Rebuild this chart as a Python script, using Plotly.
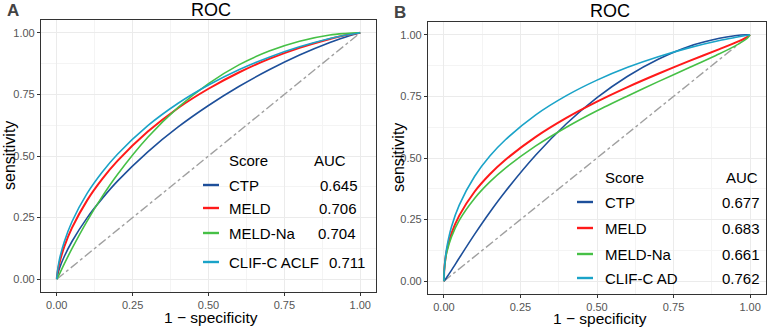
import plotly.graph_objects as go

# ---------------- data ----------------
scores_a = ["CTP", "MELD", "MELD-Na", "CLIF-C ACLF"]
auc_a = ["0.645", "0.706", "0.704", "0.711"]
scores_b = ["CTP", "MELD", "MELD-Na", "CLIF-C AD"]
auc_b = ["0.677", "0.683", "0.661", "0.762"]

# shared 1 - specificity grid
fpr = [0, 0.001, 0.005, 0.01, 0.025, 0.05, 0.1, 0.15, 0.2, 0.3, 0.4, 0.5, 0.6, 0.7, 0.8, 0.9, 0.95, 0.99, 1]

# Panel A sensitivities
a_ctp = [0, 0.008, 0.028, 0.048, 0.093, 0.153, 0.249, 0.328, 0.398, 0.517, 0.618, 0.705, 0.782, 0.850, 0.910, 0.961, 0.982, 0.997, 1]
a_meld = [0, 0.014, 0.045, 0.072, 0.133, 0.208, 0.320, 0.407, 0.480, 0.599, 0.695, 0.773, 0.839, 0.894, 0.939, 0.975, 0.990, 0.998, 1]
a_na = [0, 0.002, 0.012, 0.024, 0.063, 0.124, 0.236, 0.336, 0.425, 0.576, 0.697, 0.794, 0.870, 0.926, 0.966, 0.991, 0.997, 1.0, 1]
a_clif = [0, 0.019, 0.055, 0.087, 0.153, 0.233, 0.348, 0.435, 0.507, 0.623, 0.714, 0.788, 0.850, 0.901, 0.943, 0.977, 0.990, 0.998, 1]

# Panel B sensitivities
b_ctp = [0, 0.001, 0.008, 0.017, 0.045, 0.094, 0.190, 0.280, 0.363, 0.512, 0.639, 0.745, 0.832, 0.901, 0.953, 0.986, 0.996, 1.0, 1]
b_meld = [0, 0.044, 0.093, 0.128, 0.195, 0.266, 0.363, 0.434, 0.492, 0.586, 0.663, 0.729, 0.788, 0.842, 0.893, 0.942, 0.967, 0.991, 1]
b_na = [0, 0.042, 0.088, 0.120, 0.181, 0.247, 0.336, 0.403, 0.458, 0.549, 0.625, 0.692, 0.752, 0.810, 0.866, 0.923, 0.954, 0.985, 1]
b_clif = [0, 0.042, 0.099, 0.141, 0.222, 0.309, 0.425, 0.508, 0.573, 0.675, 0.753, 0.816, 0.868, 0.911, 0.947, 0.977, 0.989, 0.998, 1]

diag = [0, 1]
tick_vals = [0, 0.25, 0.5, 0.75, 1.0]
tick_text = ["0.00", "0.25", "0.50", "0.75", "1.00"]

colors = ["#1d4f9a", "#ff1a1a", "#46c046", "#1aa3c8"]
widths = [1.6, 2.0, 1.6, 1.6]

W, H = 777, 327
FONT = "Liberation Sans, Arial, sans-serif"

fig = go.Figure()

curves_a = [a_ctp, a_meld, a_na, a_clif]
curves_b = [b_ctp, b_meld, b_na, b_clif]

for xa, ya, curves in [("x", "y", curves_a), ("x2", "y2", curves_b)]:
    fig.add_trace(go.Scatter(x=diag, y=diag, mode="lines", xaxis=xa, yaxis=ya,
                             line=dict(color="#a0a0a0", width=1.4, dash="dashdot"),
                             showlegend=False, hoverinfo="skip"))
    for cy, col, w in zip(curves, colors, widths):
        fig.add_trace(go.Scatter(x=fpr, y=cy, mode="lines", xaxis=xa, yaxis=ya,
                                 line=dict(color=col, width=w, shape="spline", smoothing=0.8),
                                 showlegend=False))

def px_x(p):
    return p / W

def px_y(p):
    return 1 - p / H

axis_common = dict(
    range=[-0.052, 1.052], tickvals=tick_vals, ticktext=tick_text,
    showgrid=True, gridcolor="#ebebeb", gridwidth=1,
    minor=dict(showgrid=True, gridcolor="#f4f4f4", gridwidth=0.8, dtick=0.125, tick0=0.125),
    zeroline=False, showline=True, mirror=True, linecolor="#333333", linewidth=1.1,
    ticks="outside", ticklen=3, tickcolor="#333333", tickwidth=1,
    tickfont=dict(family=FONT, size=11, color="#555555"),
    fixedrange=True,
)

fig.update_layout(
    width=W, height=H,
    margin=dict(l=0, r=0, t=0, b=0),
    paper_bgcolor="white", plot_bgcolor="white",
    showlegend=False,
    font=dict(family=FONT),
    xaxis=dict(domain=[px_x(41), px_x(376)], anchor="y", **axis_common),
    yaxis=dict(domain=[px_y(292), px_y(20)], anchor="x", **axis_common),
    xaxis2=dict(domain=[px_x(428), px_x(766)], anchor="y2", **axis_common),
    yaxis2=dict(domain=[px_y(294), px_y(22)], anchor="x2", **axis_common),
)

ann = []
shapes = []

def text(x, y, s, size, xanchor="center", color="black", bold=False, angle=0):
    ann.append(dict(x=px_x(x), y=px_y(y), xref="paper", yref="paper", text=("<b>%s</b>" % s) if bold else s,
                    showarrow=False, xanchor=xanchor, yanchor="middle", textangle=angle, borderpad=0,
                    font=dict(family=FONT, size=size, color=color)))

# Panel labels and titles
text(6, 11, "A", 17, xanchor="left", color="#444444", bold=True)
text(393, 12, "B", 17, xanchor="left", color="#444444", bold=True)
text(211, 10, "ROC", 18)
text(610, 11, "ROC", 18)

# Axis titles
text(211, 317, "1 \u2212 specificity", 15.5)
text(600, 318, "1 \u2212 specificity", 15.5)
text(9, 156, "sensitivity", 16, angle=-90)
text(398, 158, "sensitivity", 16, angle=-90)

# Legend A
LF = 15
text(228, 160, "Score", LF, xanchor="left")
text(313, 160, "AUC", LF, xanchor="left")
rows_a = [185, 208, 233, 262]
auc_x_a = [319, 318, 317, 328]
for name, val, col, ry, axx in zip(scores_a, auc_a, colors, rows_a, auc_x_a):
    shapes.append(dict(type="line", xref="paper", yref="paper", x0=px_x(203), x1=px_x(219),
                       y0=px_y(ry), y1=px_y(ry), line=dict(color=col, width=2.4)))
    text(228, ry, name, LF, xanchor="left")
    text(axx, ry, val, LF, xanchor="left")

# Legend B
text(604, 177, "Score", LF, xanchor="left")
text(725, 177, "AUC", LF, xanchor="left")
rows_b = [202, 228, 254, 278]
for name, val, col, ry in zip(scores_b, auc_b, colors, rows_b):
    shapes.append(dict(type="line", xref="paper", yref="paper", x0=px_x(577), x1=px_x(593),
                       y0=px_y(ry), y1=px_y(ry), line=dict(color=col, width=2.4)))
    text(604, ry, name, LF, xanchor="left")
    text(761, ry, val, LF, xanchor="right")

fig.update_layout(annotations=ann, shapes=shapes)

fig.write_html("out.html", config={"displayModeBar": False},
               post_script="document.body.style.margin='0';")
